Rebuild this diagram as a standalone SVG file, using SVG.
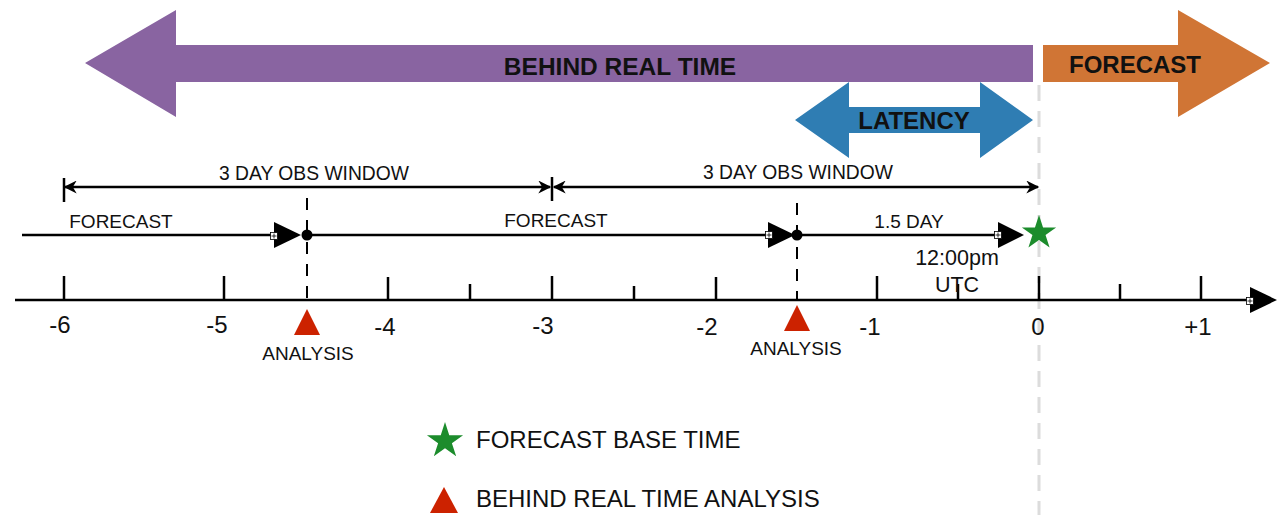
<svg xmlns="http://www.w3.org/2000/svg" width="1284" height="515" viewBox="0 0 1284 515">
<style>
.t{font-family:"Liberation Sans",Arial,sans-serif;fill:#111}
.b{font-family:"Liberation Sans",Arial,sans-serif;font-weight:bold;fill:#111}
.ax{font-family:"Liberation Sans",Arial,sans-serif;fill:#111;font-size:24px;text-anchor:middle}
.ln{stroke:#000;stroke-width:2.5;fill:none}
.tk{stroke:#000;stroke-width:2.5}
.red{fill:#cc2200}
.grn{fill:#1c8c2c}
.sq{fill:#fff;stroke:#000;stroke-width:0.8}
.pl{stroke:#000;stroke-width:0.8}
</style>
<defs>
<marker id="oa" viewBox="0 0 10 10" refX="9" refY="5" markerWidth="15" markerHeight="13" orient="auto-start-reverse" markerUnits="userSpaceOnUse"><path d="M0,0 L10,5 L0,10 L3,5 Z" fill="#000"/></marker>
<symbol id="star" viewBox="-1 -1 2 2" overflow="visible"><polygon points="0,-1 0.2245,-0.309 0.951,-0.309 0.3633,0.118 0.5878,0.809 0,0.382 -0.5878,0.809 -0.3633,0.118 -0.951,-0.309 -0.2245,-0.309"/></symbol>
<g id="sqp"><rect class="sq" x="-3.5" y="-3.5" width="7" height="7"/><path class="pl" d="M-2.5,0 H2.5 M0,-2.5 V2.5"/></g>
</defs>
<line x1="1039" y1="85" x2="1039" y2="515" stroke="#dcdcdc" stroke-width="3" stroke-dasharray="16,10"/>
<g id="behind">
<polygon points="85,63 176,10 176,45 1033,45 1033,82 176,82 176,117" fill="#8964a1"/>
<text class="b" x="620" y="75" font-size="24.5" text-anchor="middle">BEHIND REAL TIME</text>
</g>
<g id="forecast-arrow">
<polygon points="1043,45 1178,45 1178,10 1270,63 1178,117 1178,82 1043,82" fill="#d07535"/>
<text class="b" x="1135" y="73" font-size="24" text-anchor="middle">FORECAST</text>
</g>
<g id="latency">
<polygon points="795,120 849,82 849,107 980,107 980,82 1033,120 980,158 980,133 849,133 849,158" fill="#2f7db3"/>
<text class="b" x="914" y="129" font-size="24" text-anchor="middle">LATENCY</text>
</g>
<g id="connectors">
<line class="tk" x1="64" y1="178" x2="64" y2="202"/>
<line class="tk" x1="552" y1="177" x2="552" y2="201"/>
<line class="ln" x1="65" y1="187" x2="550" y2="187" marker-start="url(#oa)" marker-end="url(#oa)"/>
<line class="ln" x1="554" y1="187" x2="1038" y2="187" marker-start="url(#oa)" marker-end="url(#oa)"/>
<line class="ln" x1="22" y1="235" x2="285" y2="235"/>
<polygon points="274,222 301,235 274,248"/>
<use href="#sqp" x="274" y="236"/>
<line class="ln" x1="307" y1="235" x2="780" y2="235"/>
<polygon points="768,222 795,235 768,248"/>
<use href="#sqp" x="769" y="235"/>
<line class="ln" x1="797" y1="235" x2="1005" y2="235"/>
<polygon points="998,222 1024,235 998,248"/>
<use href="#sqp" x="998" y="235"/>
<circle cx="307" cy="235" r="5.5"/>
<circle cx="797" cy="235" r="5.5"/>
<line x1="307" y1="198" x2="307" y2="300" stroke="#000" stroke-width="2" stroke-dasharray="12,10"/>
<line x1="797" y1="203" x2="797" y2="300" stroke="#000" stroke-width="2" stroke-dasharray="12,10"/>
<line class="ln" x1="15" y1="300" x2="1262" y2="300"/>
<polygon points="1250,287 1277,300 1250,313"/>
<use href="#sqp" x="1250" y="301"/>
<g class="tk">
<line x1="64" y1="276" x2="64" y2="300"/>
<line x1="224" y1="276" x2="224" y2="300"/>
<line x1="388" y1="277" x2="388" y2="300"/>
<line x1="552" y1="276" x2="552" y2="300"/>
<line x1="716" y1="277" x2="716" y2="300"/>
<line x1="877" y1="276" x2="877" y2="300"/>
<line x1="1039" y1="276" x2="1039" y2="300"/>
<line x1="1201" y1="276" x2="1201" y2="300"/>
<line x1="470" y1="284" x2="470" y2="300"/>
<line x1="634" y1="286" x2="634" y2="300"/>
<line x1="958" y1="284" x2="958" y2="300"/>
<line x1="1120" y1="284" x2="1120" y2="300"/>
</g>
</g>
<g id="labels">
<text class="t" x="314" y="180" font-size="19.3" text-anchor="middle">3 DAY OBS WINDOW</text>
<text class="t" x="798" y="179" font-size="19.3" text-anchor="middle">3 DAY OBS WINDOW</text>
<text class="t" x="121" y="228" font-size="19" text-anchor="middle">FORECAST</text>
<text class="t" x="556" y="227" font-size="19" text-anchor="middle">FORECAST</text>
<text class="t" x="909" y="228" font-size="19" text-anchor="middle">1.5 DAY</text>
<text class="t" x="957" y="265" font-size="21.5" text-anchor="middle">12:00pm</text>
<text class="t" x="957" y="292" font-size="21.5" text-anchor="middle">UTC</text>
<text class="ax" x="60" y="333">-6</text>
<text class="ax" x="217" y="333">-5</text>
<text class="ax" x="385" y="335">-4</text>
<text class="ax" x="543" y="334">-3</text>
<text class="ax" x="707" y="335">-2</text>
<text class="ax" x="870" y="335">-1</text>
<text class="ax" x="1038" y="335">0</text>
<text class="ax" x="1198" y="335">+1</text>
</g>
<g id="analysis1">
<polygon class="red" points="307,309 320,335 294,335"/>
<text class="t" x="308" y="360" font-size="19" text-anchor="middle">ANALYSIS</text>
</g>
<g id="analysis2">
<polygon class="red" points="797,305 810,331 784,331"/>
<text class="t" x="796" y="355" font-size="19" text-anchor="middle">ANALYSIS</text>
</g>
<g id="basetime">
<use href="#star" class="grn" x="1021" y="215" width="36" height="36"/>
</g>
<g id="legend">
<use href="#star" class="grn" x="426" y="422" width="38" height="38"/>
<text class="t" x="476" y="448" font-size="24">FORECAST BASE TIME</text>
<polygon class="red" points="444,487 458,513 430,513"/>
<text class="t" x="476" y="507" font-size="24">BEHIND REAL TIME ANALYSIS</text>
</g>
</svg>
